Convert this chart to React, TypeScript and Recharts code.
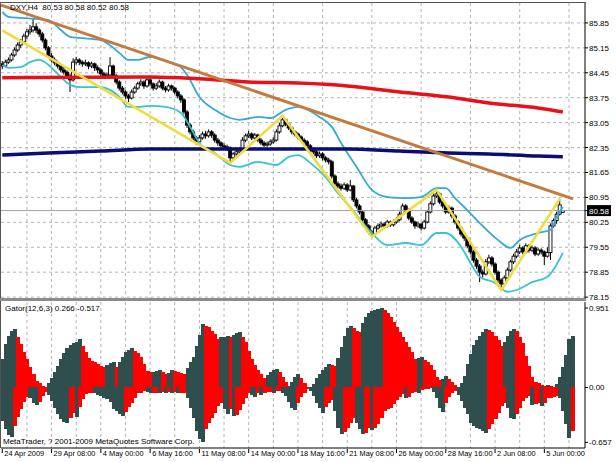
import React from 'react';
import {
  ComposedChart,
  Bar,
  Line,
  XAxis,
  YAxis,
  CartesianGrid,
  ReferenceLine,
  Cell,
} from 'recharts';

// DXY H4 candles, one value per bar (bar 0 = 24 Apr 2009 00:00)
const opens = [
  84.70, 84.64, 84.75, 84.81, 84.95, 85.09, 85.23, 85.32, 85.48, 85.60,
  85.65, 85.74, 85.65, 85.54, 85.37, 85.15, 84.92, 84.81, 84.73, 84.64,
  84.53, 84.47, 84.36, 84.25, 84.75, 84.81, 84.75, 84.70, 84.73, 84.64,
  84.70, 84.59, 84.53, 84.42, 84.36, 84.39, 84.64, 84.36, 84.19, 84.02,
  83.91, 83.80, 83.74, 83.91, 84.02, 84.14, 84.19, 84.08, 84.25, 84.14,
  84.02, 84.08, 84.19, 84.02, 83.97, 84.08, 84.02, 83.91, 83.80, 83.69,
  83.35, 82.98, 82.79, 82.62, 82.51, 82.62, 82.73, 82.68, 82.79, 82.70,
  82.56, 82.48, 82.40, 82.37, 82.34, 82.06, 82.17, 82.23, 82.28, 82.56,
  82.68, 82.73, 82.62, 82.70, 82.56, 82.48, 82.42, 82.45, 82.51, 82.56,
  82.79, 82.96, 83.13, 83.01, 82.90, 82.79, 82.73, 82.65, 82.56, 82.51,
  82.40, 82.28, 82.23, 82.12, 82.17, 82.06, 82.00, 81.95, 81.55, 81.33,
  81.27, 81.21, 81.30, 81.16, 81.27, 80.88, 80.71, 80.54, 80.32, 80.15,
  79.98, 79.92, 80.09, 80.15, 80.20, 80.15, 80.26, 80.18, 80.26, 80.32,
  80.48, 80.71, 80.60, 80.37, 80.26, 80.15, 80.20, 80.09, 80.26, 80.54,
  80.77, 80.99, 81.05, 80.82, 80.71, 80.54, 80.65, 80.43, 80.26, 80.09,
  79.92, 79.81, 79.59, 79.42, 79.19, 79.02, 78.85, 78.80, 79.14, 79.25,
  79.08, 78.85, 78.63, 78.52, 78.69, 78.91, 79.14, 79.30, 79.42, 79.53,
  79.42, 79.59, 79.47, 79.53, 79.36, 79.47, 79.42, 79.30, 79.40, 80.15,
  80.30, 80.48, 80.53,
];
const highs = [
  84.78, 84.82, 84.88, 85.01, 85.16, 85.30, 85.40, 85.55, 85.68, 85.79,
  85.99, 85.84, 85.70, 85.60, 85.42, 85.20, 85.00, 84.88, 84.79, 84.70,
  84.62, 84.52, 84.43, 84.86, 84.90, 84.86, 84.80, 84.82, 84.77, 84.76,
  84.74, 84.66, 84.58, 84.48, 84.46, 84.89, 84.68, 84.42, 84.24, 84.08,
  83.96, 83.86, 83.98, 84.08, 84.20, 84.27, 84.24, 84.32, 84.30, 84.18,
  84.16, 84.26, 84.23, 84.08, 84.14, 84.12, 84.06, 83.96, 83.85, 83.74,
  83.40, 83.04, 82.85, 82.68, 82.70, 82.80, 82.82, 82.86, 82.84, 82.75,
  82.62, 82.53, 82.47, 82.43, 82.38, 82.22, 82.30, 82.36, 82.64, 82.74,
  82.82, 82.78, 82.76, 82.74, 82.62, 82.54, 82.52, 82.58, 82.64, 82.86,
  83.04, 83.24, 83.18, 83.06, 82.95, 82.84, 82.78, 82.70, 82.62, 82.56,
  82.45, 82.34, 82.28, 82.24, 82.22, 82.12, 82.06, 82.00, 81.60, 81.40,
  81.34, 81.37, 81.35, 81.44, 81.30, 80.93, 80.76, 80.58, 80.37, 80.20,
  80.04, 80.15, 80.22, 80.27, 80.26, 80.32, 80.30, 80.33, 80.40, 80.55,
  80.78, 80.76, 80.64, 80.42, 80.30, 80.27, 80.24, 80.32, 80.60, 80.84,
  81.06, 81.16, 81.10, 80.88, 80.76, 80.72, 80.69, 80.48, 80.31, 80.14,
  79.98, 79.86, 79.64, 79.47, 79.25, 79.08, 78.92, 79.22, 79.34, 79.30,
  79.13, 78.90, 78.68, 78.76, 78.98, 79.20, 79.37, 79.50, 79.62, 79.58,
  79.66, 79.64, 79.60, 79.58, 79.54, 79.52, 79.46, 79.55, 80.22, 80.36,
  80.55, 80.91, 80.58,
];
const lows = [
  84.55, 84.60, 84.70, 84.77, 84.90, 85.04, 85.15, 85.27, 85.40, 85.52,
  85.58, 85.56, 85.46, 85.30, 85.08, 84.86, 84.74, 84.66, 84.57, 84.46,
  84.40, 84.28, 83.91, 84.20, 84.68, 84.66, 84.62, 84.64, 84.55, 84.58,
  84.50, 84.44, 84.34, 84.28, 84.30, 84.35, 84.30, 84.12, 83.95, 83.84,
  83.72, 83.63, 83.70, 83.86, 83.97, 84.08, 84.00, 84.03, 84.07, 83.95,
  83.97, 84.03, 83.96, 83.90, 83.92, 83.95, 83.85, 83.73, 83.60, 83.28,
  82.90, 82.72, 82.55, 82.42, 82.46, 82.57, 82.60, 82.63, 82.62, 82.49,
  82.40, 82.33, 82.28, 82.25, 81.92, 82.00, 82.12, 82.18, 82.24, 82.50,
  82.62, 82.56, 82.57, 82.50, 82.42, 82.36, 82.37, 82.40, 82.46, 82.52,
  82.74, 82.92, 82.95, 82.84, 82.72, 82.66, 82.58, 82.50, 82.44, 82.34,
  82.22, 82.16, 82.05, 82.06, 81.99, 81.93, 81.88, 81.48, 81.25, 81.20,
  81.14, 81.16, 81.10, 81.12, 80.82, 80.64, 80.47, 80.25, 80.08, 79.91,
  79.84, 79.88, 80.04, 80.10, 80.08, 80.10, 80.12, 80.13, 80.21, 80.28,
  80.44, 80.54, 80.31, 80.20, 80.07, 80.10, 80.02, 80.05, 80.22, 80.50,
  80.72, 80.94, 80.76, 80.64, 80.48, 80.49, 80.36, 80.19, 80.02, 79.85,
  79.73, 79.52, 79.35, 79.12, 78.94, 78.57, 78.70, 78.76, 79.08, 79.01,
  78.78, 78.55, 78.35, 78.46, 78.64, 78.86, 79.08, 79.24, 79.36, 79.35,
  79.37, 79.40, 79.41, 79.30, 79.31, 79.35, 79.05, 79.26, 79.19, 80.10,
  80.21, 80.44, 80.52,
];
const closes = [
  84.64, 84.75, 84.81, 84.95, 85.09, 85.23, 85.32, 85.48, 85.60, 85.65,
  85.74, 85.65, 85.54, 85.37, 85.15, 84.92, 84.81, 84.73, 84.64, 84.53,
  84.47, 84.36, 84.25, 84.75, 84.81, 84.75, 84.70, 84.73, 84.64, 84.70,
  84.59, 84.53, 84.42, 84.36, 84.39, 84.64, 84.36, 84.19, 84.02, 83.91,
  83.80, 83.74, 83.91, 84.02, 84.14, 84.19, 84.08, 84.25, 84.14, 84.02,
  84.08, 84.19, 84.02, 83.97, 84.08, 84.02, 83.91, 83.80, 83.69, 83.35,
  82.98, 82.79, 82.62, 82.51, 82.62, 82.73, 82.68, 82.79, 82.70, 82.56,
  82.48, 82.40, 82.37, 82.34, 82.06, 82.17, 82.23, 82.28, 82.56, 82.68,
  82.73, 82.62, 82.70, 82.56, 82.48, 82.42, 82.45, 82.51, 82.56, 82.79,
  82.96, 83.13, 83.01, 82.90, 82.79, 82.73, 82.65, 82.56, 82.51, 82.40,
  82.28, 82.23, 82.12, 82.17, 82.06, 82.00, 81.95, 81.55, 81.33, 81.27,
  81.21, 81.30, 81.16, 81.27, 80.88, 80.71, 80.54, 80.32, 80.15, 79.98,
  79.92, 80.09, 80.15, 80.20, 80.15, 80.26, 80.18, 80.26, 80.32, 80.48,
  80.71, 80.60, 80.37, 80.26, 80.15, 80.20, 80.09, 80.26, 80.54, 80.77,
  80.99, 81.05, 80.82, 80.71, 80.54, 80.65, 80.43, 80.26, 80.09, 79.92,
  79.81, 79.59, 79.42, 79.19, 79.02, 78.85, 78.80, 79.14, 79.25, 79.08,
  78.85, 78.63, 78.52, 78.69, 78.91, 79.14, 79.30, 79.42, 79.53, 79.42,
  79.59, 79.47, 79.53, 79.36, 79.47, 79.42, 79.30, 79.40, 80.15, 80.30,
  80.48, 80.74, 80.58,
];

// Bollinger bands, read at the bars where they could be measured
const bbUpperIdx = [0, 2, 6, 15, 19, 22, 25, 32, 38, 41, 44, 48, 54, 58, 60, 64, 69, 74, 77, 83, 87, 92, 96, 103, 107, 110, 115, 120, 125, 131, 136, 141, 144, 147, 150, 155, 161, 165, 168, 174, 178, 180, 182];
const bbUpper = [86.16, 86.02, 85.99, 85.93, 85.65, 85.46, 85.43, 85.37, 85.01, 84.81, 84.81, 84.90, 84.75, 84.61, 84.39, 83.77, 83.41, 83.18, 83.13, 83.21, 83.18, 83.41, 83.49, 83.21, 82.93, 82.48, 81.81, 81.16, 80.96, 80.93, 80.96, 81.21, 81.21, 80.93, 80.68, 80.23, 79.75, 79.53, 79.75, 79.95, 80.04, 80.40, 80.68];
const bbLowerIdx = [0, 2, 6, 9, 12, 15, 19, 22, 25, 32, 35, 38, 41, 44, 48, 53, 58, 61, 64, 69, 74, 77, 83, 89, 93, 96, 100, 105, 109, 113, 120, 125, 131, 136, 141, 144, 149, 152, 155, 160, 164, 167, 172, 177, 182];
const bbLower = [84.67, 84.59, 84.61, 84.75, 84.81, 84.67, 84.33, 84.11, 84.05, 84.05, 83.97, 83.77, 83.49, 83.49, 83.52, 83.49, 83.32, 82.93, 82.48, 82.20, 81.86, 81.81, 81.95, 81.86, 82.09, 82.14, 81.92, 81.52, 81.07, 80.68, 79.95, 79.61, 79.67, 79.61, 79.95, 79.95, 79.56, 79.11, 78.72, 78.55, 78.30, 78.35, 78.57, 78.72, 79.39];

// slow moving averages
const redMaIdx = [0, 48, 64, 80, 96, 112, 129, 145, 158, 174, 182];
const redMa = [84.31, 84.33, 84.28, 84.19, 84.16, 84.08, 83.91, 83.77, 83.60, 83.46, 83.35];
const navyMaIdx = [0, 15, 32, 48, 96, 112, 129, 145, 158, 174, 182];
const navyMa = [82.14, 82.20, 82.25, 82.31, 82.31, 82.31, 82.25, 82.20, 82.17, 82.11, 82.09];

// zigzag pivots and the hand-drawn trend line
const zigIdx = [0, 74, 91, 120, 141, 162, 181];
const zigPrice = [85.64, 81.92, 83.24, 79.84, 81.16, 78.35, 80.91];
const trendIdx = [-0.42, 185.3];
const trendPrice = [86.35, 80.91];

// Gator(12,6,3) histograms
const gatorUpper = [
  0.34, 0.52, 0.62, 0.68, 0.70, 0.61, 0.52, 0.42, 0.34, 0.25,
  0.16, 0.08, 0.05, 0.02, 0.01, 0.05, 0.11, 0.18, 0.26, 0.34,
  0.41, 0.47, 0.51, 0.53, 0.55, 0.58, 0.50, 0.42, 0.35, 0.32,
  0.30, 0.28, 0.26, 0.25, 0.27, 0.29, 0.30, 0.24, 0.30, 0.36,
  0.42, 0.45, 0.47, 0.44, 0.41, 0.37, 0.28, 0.20, 0.18, 0.19,
  0.20, 0.21, 0.18, 0.16, 0.17, 0.21, 0.20, 0.18, 0.17, 0.16,
  0.23, 0.31, 0.37, 0.50, 0.63, 0.76, 0.74, 0.72, 0.68, 0.64,
  0.58, 0.60, 0.61, 0.62, 0.60, 0.63, 0.65, 0.66, 0.60, 0.54,
  0.44, 0.34, 0.27, 0.21, 0.16, 0.11, 0.15, 0.19, 0.21, 0.22,
  0.18, 0.12, 0.07, 0.02, 0.06, 0.13, 0.16, 0.11, 0.05, 0.01,
  0.01, 0.04, 0.11, 0.16, 0.21, 0.25, 0.28, 0.27, 0.26, 0.35,
  0.48, 0.62, 0.71, 0.73, 0.71, 0.68, 0.66, 0.77, 0.84, 0.89,
  0.92, 0.93, 0.94, 0.951, 0.93, 0.89, 0.84, 0.78, 0.72, 0.67,
  0.61, 0.55, 0.49, 0.43, 0.34, 0.35, 0.36, 0.33, 0.30, 0.27,
  0.21, 0.13, 0.09, 0.10, 0.14, 0.10, 0.06, 0.03, 0.01, 0.05,
  0.14, 0.28, 0.40, 0.51, 0.57, 0.62, 0.66, 0.70, 0.69, 0.66,
  0.62, 0.57, 0.50, 0.55, 0.62, 0.68, 0.70, 0.68, 0.61, 0.53,
  0.38, 0.26, 0.13, 0.07, 0.05, 0.03, 0.02, 0.03, 0.02, 0.01,
  0.04, 0.12, 0.24, 0.39, 0.58, 0.62,
];
const gatorLower = [
  -0.40, -0.50, -0.57, -0.59, -0.46, -0.35, -0.26, -0.17, -0.11, -0.12,
  -0.18, -0.21, -0.17, -0.10, -0.05, -0.09, -0.16, -0.24, -0.32, -0.38,
  -0.41, -0.43, -0.36, -0.31, -0.35, -0.23, -0.14, -0.08, -0.06, -0.06,
  -0.07, -0.09, -0.10, -0.12, -0.14, -0.17, -0.26, -0.28, -0.32, -0.34,
  -0.29, -0.23, -0.18, -0.13, -0.07, -0.06, -0.04, -0.05, -0.07, -0.06,
  -0.06, -0.07, -0.05, -0.06, -0.05, -0.06, -0.05, -0.07, -0.06, -0.06,
  -0.12, -0.24, -0.36, -0.52, -0.62, -0.657, -0.50, -0.42, -0.36, -0.30,
  -0.22, -0.18, -0.26, -0.32, -0.26, -0.34, -0.33, -0.27, -0.20, -0.12,
  -0.07, -0.09, -0.11, -0.07, -0.09, -0.06, -0.05, -0.05, -0.06, -0.04,
  -0.04, -0.06, -0.10, -0.17, -0.25, -0.27, -0.18, -0.11, -0.07, -0.02,
  -0.04, -0.10, -0.18, -0.25, -0.30, -0.23, -0.19, -0.15, -0.28, -0.48,
  -0.56, -0.53, -0.49, -0.43, -0.36, -0.42, -0.50, -0.56, -0.54, -0.48,
  -0.51, -0.48, -0.44, -0.36, -0.28, -0.26, -0.24, -0.20, -0.15, -0.11,
  -0.08, -0.12, -0.11, -0.07, -0.05, -0.06, -0.03, -0.02, -0.02, -0.01,
  -0.05, -0.12, -0.24, -0.29, -0.18, -0.11, -0.06, -0.04, -0.09, -0.16,
  -0.24, -0.32, -0.42, -0.46, -0.48, -0.50, -0.52, -0.54, -0.50, -0.44,
  -0.38, -0.30, -0.22, -0.18, -0.25, -0.37, -0.38, -0.32, -0.24, -0.16,
  -0.13, -0.10, -0.21, -0.20, -0.18, -0.22, -0.18, -0.13, -0.12, -0.11,
  -0.10, -0.12, -0.28, -0.44, -0.60, -0.52,
];

// axes
const priceTicks = [85.85, 85.15, 84.45, 83.75, 83.05, 82.35, 81.65, 80.95, 80.25, 79.55, 78.85, 78.15];
const lastPrice = 80.58;
const gatorTicks = [0.951, 0, -0.657];
const gridX = [8, 16, 24, 32, 40, 48, 56, 64, 72, 80, 88, 96, 104, 112, 120, 128, 136, 144, 152, 160, 168, 176, 184];
const dateTicks = [0, 16, 32, 48, 64, 80, 96, 112, 128, 144, 160, 176];
const dateLabels = [
  '24 Apr 2009', '29 Apr 08:00', '4 May 00:00', '6 May 16:00', '11 May 08:00', '14 May 00:00',
  '18 May 16:00', '21 May 08:00', '26 May 00:00', '28 May 16:00', '2 Jun 08:00', '5 Jun 00:00',
];

const FONT = '"Liberation Sans", Arial, sans-serif';
const X_DOMAIN: [number, number] = [-0.42, 189.2];
const PRICE_DOMAIN: [number, number] = [78.125, 86.41];
const GATOR_DOMAIN: [number, number] = [-0.724, 1.023];
const DARK = '#2F4F4F';
const RED = '#FF0000';

function lookup(idx: number[], vals: number[]) {
  const m = new Map<number, number>();
  idx.forEach((k, j) => m.set(k, vals[j]));
  return m;
}

// MT4 gator colouring: dark while the bar grows, red while it shrinks
function gatorColors(vals: number[], sign: number) {
  const out: string[] = [];
  let growing = true;
  vals.forEach((v, i) => {
    if (i > 0) {
      const d = (v - vals[i - 1]) * sign;
      if (d > 0) growing = true;
      else if (d < 0) growing = false;
    }
    out.push(growing ? DARK : RED);
  });
  return out;
}

const bbU = lookup(bbUpperIdx, bbUpper);
const bbL = lookup(bbLowerIdx, bbLower);
const redM = lookup(redMaIdx, redMa);
const navyM = lookup(navyMaIdx, navyMa);
const zig = lookup(zigIdx, zigPrice);

const rows = gatorUpper.map((u, i) => ({
  i,
  range: i < closes.length ? [lows[i], highs[i]] : null,
  open: i < closes.length ? opens[i] : null,
  close: i < closes.length ? closes[i] : null,
  bbUp: bbU.get(i) ?? null,
  bbLo: bbL.get(i) ?? null,
  red: redM.get(i) ?? null,
  navy: navyM.get(i) ?? null,
  zig: zig.get(i) ?? null,
  up: u,
  dn: gatorLower[i],
}));

const upColors = gatorColors(gatorUpper, 1);
const dnColors = gatorColors(gatorLower, -1);

function Candle(props: any) {
  const { x, y, width, height, payload } = props;
  if (!payload || !payload.range) return <g />;
  const [lo, hi] = payload.range;
  const top = Math.min(y, y + height);
  const h = Math.abs(height);
  const cx = x + width / 2;
  const toPx = (v: number) => (hi === lo ? top : top + ((hi - v) / (hi - lo)) * h);
  const yo = toPx(payload.open);
  const yc = toPx(payload.close);
  const bull = payload.close >= payload.open;
  return (
    <g>
      <line x1={cx} x2={cx} y1={top} y2={top + h} stroke="#000" strokeWidth={1} />
      <rect
        x={cx - 1.5}
        y={Math.min(yo, yc)}
        width={3}
        height={Math.max(1, Math.abs(yc - yo))}
        fill={bull ? '#fff' : '#000'}
        stroke="#000"
        strokeWidth={0.9}
      />
    </g>
  );
}

// histogram column snapped to whole pixels and slightly overlapping the next one
function GatorColumn(props: any) {
  const { x, y, width, height, fill } = props;
  if (!height) return <g />;
  const cx = x + width / 2;
  const left = Math.round(cx - 1.5);
  const top = Math.round(Math.min(y, y + height));
  const bottom = Math.round(Math.max(y, y + height));
  return (
    <rect x={left} y={top} width={4} height={Math.max(1, bottom - top)} fill={fill} shapeRendering="crispEdges" />
  );
}

function PriceTick(props: any) {
  const { x, y, payload } = props;
  const v = payload.value as number;
  if (v === lastPrice) {
    return (
      <g>
        <rect x={x - 2} y={y - 5.5} width={24} height={11} fill="#000" />
        <text x={x} y={y + 3} fontSize={8} fontFamily={FONT} fill="#fff" textAnchor="start">
          {v.toFixed(2)}
        </text>
      </g>
    );
  }
  return (
    <text x={x} y={y + 3} fontSize={8} fontFamily={FONT} fill="#000" textAnchor="start">
      {v.toFixed(2)}
    </text>
  );
}

function GatorTick(props: any) {
  const { x, y, payload } = props;
  const v = payload.value as number;
  return (
    <text x={x} y={y + 3} fontSize={8} fontFamily={FONT} fill="#000" textAnchor="start">
      {v === 0 ? '0.00' : String(v)}
    </text>
  );
}

function DateTick(props: any) {
  const { x, y, payload } = props;
  const label = dateLabels[dateTicks.indexOf(payload.value)];
  return (
    <g>
      <line x1={x} x2={x} y1={y - 3} y2={y + 1} stroke="#000" />
      <text x={x + 2} y={y + 4} fontSize={7.4} fontFamily={FONT} fill="#000" textAnchor="start">
        {label}
      </text>
    </g>
  );
}

const textStyle: React.CSSProperties = {
  position: 'absolute',
  fontFamily: FONT,
  fontSize: 8,
  lineHeight: '10px',
  color: '#000',
  whiteSpace: 'nowrap',
};

export default function App() {
  return (
    <div style={{ position: 'absolute', left: 0, top: 0, width: 616, height: 462, background: '#fff', overflow: 'hidden' }}>
      <div style={{ position: 'absolute', left: 0, top: 0 }}>
        <ComposedChart width={616} height={306} data={rows} margin={{ top: 3, right: 0, bottom: 8, left: 1 }}>
          <CartesianGrid stroke="#b4b4b4" strokeDasharray="3 3" verticalValues={gridX} horizontalValues={priceTicks} />
          <XAxis type="number" dataKey="i" domain={X_DOMAIN} allowDataOverflow hide />
          <YAxis
            orientation="right"
            width={31}
            domain={PRICE_DOMAIN}
            allowDataOverflow
            ticks={[...priceTicks, lastPrice]}
            interval={0}
            tickSize={3}
            tickMargin={1}
            axisLine={{ stroke: '#000' }}
            tickLine={{ stroke: '#000' }}
            tick={PriceTick}
          />
          <ReferenceLine y={lastPrice} stroke="#a0a0a0" />
          <Bar dataKey="range" barSize={3} shape={Candle} isAnimationActive={false} />
          <Line dataKey="bbUp" type="monotone" stroke="#34A8DA" strokeWidth={1.8} dot={false} connectNulls isAnimationActive={false} />
          <Line dataKey="bbLo" type="monotone" stroke="#38C2D2" strokeWidth={1.8} dot={false} connectNulls isAnimationActive={false} />
          <Line dataKey="red" type="monotone" stroke="#E8101A" strokeWidth={3.5} dot={false} connectNulls isAnimationActive={false} />
          <Line dataKey="navy" type="monotone" stroke="#0C0C72" strokeWidth={3.5} dot={false} connectNulls isAnimationActive={false} />
          <ReferenceLine
            segment={[
              { x: trendIdx[0], y: trendPrice[0] },
              { x: trendIdx[1], y: trendPrice[1] },
            ]}
            stroke="#C47A3C"
            strokeWidth={3}
          />
          <Line dataKey="zig" type="linear" stroke="#F0DC3C" strokeWidth={2.6} dot={false} connectNulls isAnimationActive={false} />
        </ComposedChart>
      </div>

      <div style={{ position: 'absolute', left: 0, top: 300 }}>
        <ComposedChart width={616} height={162} data={rows} stackOffset="sign" margin={{ top: 2, right: 0, bottom: 0, left: 1 }}>
          <CartesianGrid stroke="#b4b4b4" strokeDasharray="3 3" horizontal={false} verticalValues={gridX} />
          <XAxis
            type="number"
            dataKey="i"
            domain={X_DOMAIN}
            allowDataOverflow
            ticks={dateTicks}
            interval={0}
            height={14}
            tickSize={4}
            tickMargin={0}
            tickLine={false}
            axisLine={{ stroke: '#000' }}
            tick={DateTick}
          />
          <YAxis
            orientation="right"
            width={31}
            domain={GATOR_DOMAIN}
            allowDataOverflow
            ticks={gatorTicks}
            interval={0}
            tickSize={3}
            tickMargin={1}
            axisLine={{ stroke: '#000' }}
            tickLine={{ stroke: '#000' }}
            tick={GatorTick}
          />
          <Bar dataKey="up" stackId="g" barSize={3} shape={GatorColumn} isAnimationActive={false}>
            {rows.map((r, k) => (
              <Cell key={`u${k}`} fill={upColors[k]} />
            ))}
          </Bar>
          <Bar dataKey="dn" stackId="g" barSize={3} shape={GatorColumn} isAnimationActive={false}>
            {rows.map((r, k) => (
              <Cell key={`d${k}`} fill={dnColors[k]} />
            ))}
          </Bar>
        </ComposedChart>
      </div>

      {/* chart frame and window separator */}
      <div style={{ position: 'absolute', left: 0, top: 2, width: 586, height: 1, background: '#555' }} />
      <div style={{ position: 'absolute', left: 0, top: 2, width: 1, height: 446, background: '#555' }} />
      <div style={{ position: 'absolute', left: 0, top: 298, width: 586, height: 3, background: '#8c8c8c' }} />

      <div style={{ ...textStyle, left: 10, top: 3 }}>DXY,H4&nbsp; 80.53 80.58 80.52 80.58</div>
      <div style={{ ...textStyle, left: 5, top: 304 }}>Gator(12,6,3) 0.266 -0.517</div>
      <div style={{ ...textStyle, left: 3, top: 437 }}>MetaTrader, ? 2001-2009 MetaQuotes Software Corp.</div>
    </div>
  );
}
